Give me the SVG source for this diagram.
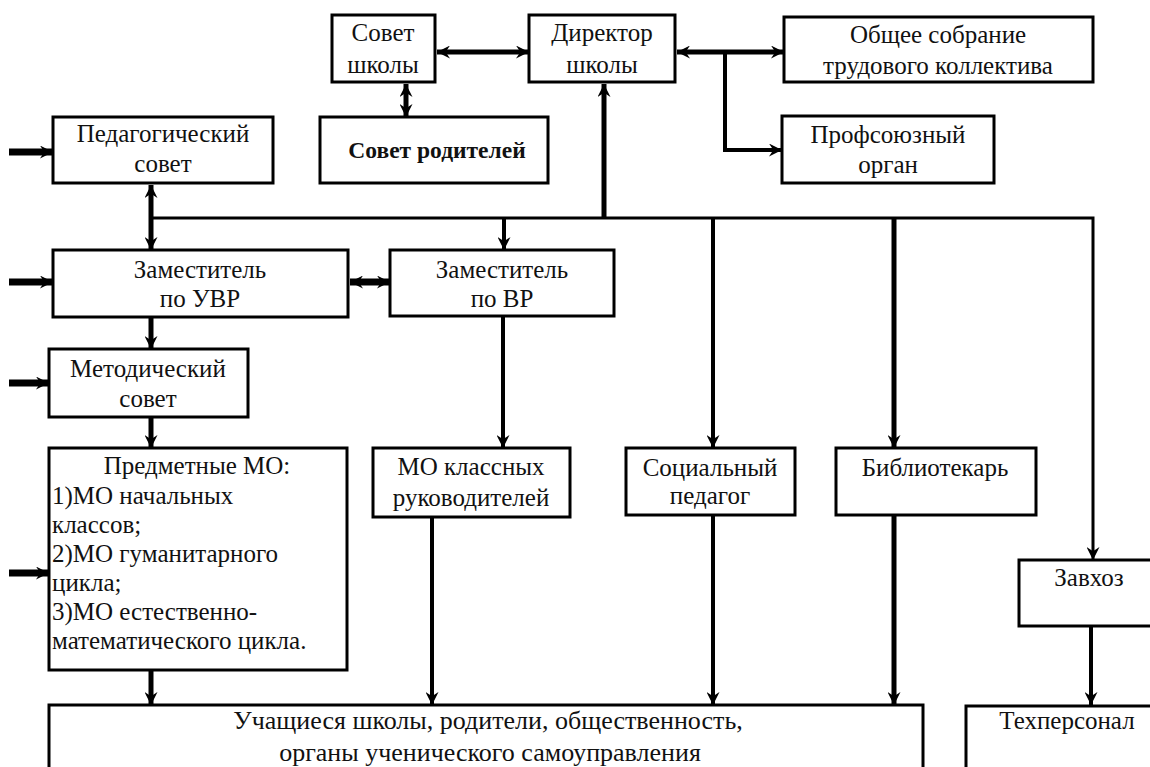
<svg xmlns="http://www.w3.org/2000/svg" width="1150" height="767" viewBox="0 0 1150 767">
<defs>
<marker id="ah" viewBox="0 0 12 12" markerUnits="userSpaceOnUse" markerWidth="13" markerHeight="13" refX="12" refY="6" orient="auto-start-reverse">
<path d="M0,0 L12,6 L0,12 L4,6 Z" fill="#000"/>
</marker>
</defs>
<style>
.box{fill:#fff;stroke:#000;stroke-width:3}
.t{font-family:"Liberation Serif","DejaVu Serif",serif;font-size:25px;fill:#111;text-anchor:middle}
.tl{text-anchor:start}
.b{font-weight:bold;font-size:23.5px}
.big{font-size:26px}
.c{fill:none;stroke:#000;stroke-linejoin:miter}
.w3{stroke-width:3}.w4{stroke-width:4}.w5{stroke-width:5}.w7{stroke-width:7}
</style>
<rect width="1150" height="767" fill="#fff"/>
<g id="connectors">
<line class="c w5" x1="437" y1="52" x2="529" y2="52" marker-start="url(#ah)" marker-end="url(#ah)"/>
<line class="c w5" x1="406" y1="84" x2="406" y2="117" marker-start="url(#ah)" marker-end="url(#ah)"/>
<line class="c w5" x1="677" y1="52" x2="784" y2="52" marker-start="url(#ah)" marker-end="url(#ah)"/>
<path class="c w4" d="M725,52 V150 H782" marker-end="url(#ah)"/>
<path class="c w3" d="M151,218 H1093 V560" marker-end="url(#ah)"/>
<line class="c w5" x1="604" y1="218" x2="604" y2="84" marker-end="url(#ah)"/>
<line class="c w5" x1="151" y1="218" x2="151" y2="185" marker-end="url(#ah)"/>
<line class="c w5" x1="151" y1="218" x2="151" y2="250" marker-end="url(#ah)"/>
<line class="c w4" x1="504" y1="218" x2="504" y2="250" marker-end="url(#ah)"/>
<line class="c w4" x1="713" y1="218" x2="713" y2="448" marker-end="url(#ah)"/>
<line class="c w5" x1="894" y1="218" x2="894" y2="448" marker-end="url(#ah)"/>
<line class="c w7" x1="350" y1="282" x2="390" y2="282" marker-start="url(#ah)" marker-end="url(#ah)"/>
<line class="c w7" x1="9" y1="152" x2="53" y2="152" marker-end="url(#ah)"/>
<line class="c w7" x1="9" y1="282" x2="53" y2="282" marker-end="url(#ah)"/>
<line class="c w7" x1="9" y1="383" x2="49" y2="383" marker-end="url(#ah)"/>
<line class="c w7" x1="9" y1="573" x2="49" y2="573" marker-end="url(#ah)"/>
<line class="c w5" x1="151" y1="317" x2="151" y2="349" marker-end="url(#ah)"/>
<line class="c w5" x1="151" y1="417" x2="151" y2="448" marker-end="url(#ah)"/>
<line class="c w4" x1="503" y1="316" x2="503" y2="448" marker-end="url(#ah)"/>
<line class="c w5" x1="151" y1="670" x2="151" y2="705" marker-end="url(#ah)"/>
<line class="c w4" x1="432" y1="517" x2="432" y2="705" marker-end="url(#ah)"/>
<line class="c w4" x1="713" y1="515" x2="713" y2="705" marker-end="url(#ah)"/>
<line class="c w5" x1="894" y1="515" x2="894" y2="705" marker-end="url(#ah)"/>
<line class="c w4" x1="1091" y1="626" x2="1091" y2="705" marker-end="url(#ah)"/>
</g>
<g id="sovet-shkoly"><rect class="box" x="332" y="15" width="103" height="67"/><text class="t" x="383" y="41">Совет</text><text class="t" x="383" y="73">школы</text></g>
<g id="direktor"><rect class="box" x="529" y="15" width="146" height="67"/><text class="t" x="602" y="41">Директор</text><text class="t" x="602" y="73">школы</text></g>
<g id="obshchee"><rect class="box" x="784" y="17" width="309" height="65"/><text class="t" x="938" y="43">Общее собрание</text><text class="t" x="938" y="74">трудового коллектива</text></g>
<g id="sovet-roditelei"><rect class="box" x="320" y="117" width="228" height="66"/><text class="t b" x="437" y="158">Совет родителей</text></g>
<g id="ped-sovet"><rect class="box" x="53" y="117" width="220" height="66"/><text class="t" x="163" y="142">Педагогический</text><text class="t" x="163" y="172">совет</text></g>
<g id="profsoyuz"><rect class="box" x="782" y="116" width="212" height="67"/><text class="t" x="888" y="143">Профсоюзный</text><text class="t" x="888" y="173">орган</text></g>
<g id="zam-uvr"><rect class="box" x="53" y="250" width="295" height="67"/><text class="t" x="200" y="278">Заместитель</text><text class="t" x="200" y="307">по УВР</text></g>
<g id="zam-vr"><rect class="box" x="390" y="250" width="224" height="66"/><text class="t" x="502" y="278">Заместитель</text><text class="t" x="502" y="307">по ВР</text></g>
<g id="metod-sovet"><rect class="box" x="49" y="349" width="199" height="68"/><text class="t" x="148" y="377">Методический</text><text class="t" x="148" y="407">совет</text></g>
<g id="predmetnye-mo"><rect class="box" x="49" y="448" width="298" height="222"/>
<text class="t" x="197" y="474">Предметные МО:</text>
<text class="t tl" x="52" y="504">1)МО начальных</text>
<text class="t tl" x="52" y="533">классов;</text>
<text class="t tl" x="52" y="562">2)МО гуманитарного</text>
<text class="t tl" x="52" y="591">цикла;</text>
<text class="t tl" x="52" y="620">3)МО естественно-</text>
<text class="t tl" x="52" y="649">математического цикла.</text></g>
<g id="mo-klassnyh"><rect class="box" x="373" y="448" width="197" height="69"/><text class="t" x="471" y="475">МО классных</text><text class="t" x="471" y="506">руководителей</text></g>
<g id="socialnyi"><rect class="box" x="626" y="448" width="169" height="67"/><text class="t" x="710" y="476">Социальный</text><text class="t" x="710" y="504">педагог</text></g>
<g id="bibliotekar"><rect class="box" x="836" y="448" width="200" height="67"/><text class="t" x="935" y="476">Библиотекарь</text></g>
<g id="zavhoz"><rect class="box" x="1019" y="560" width="145" height="66"/><text class="t" x="1089" y="586">Завхоз</text></g>
<g id="uchashchiesya"><rect class="box" x="49" y="705" width="874" height="75"/><text class="t big" x="488" y="729">Учащиеся школы, родители, общественность,</text><text class="t big" x="490" y="761">органы ученического самоуправления</text></g>
<g id="tehpersonal"><rect class="box" x="966" y="706" width="200" height="75"/><text class="t" x="1067" y="729">Техперсонал</text></g>
</svg>
